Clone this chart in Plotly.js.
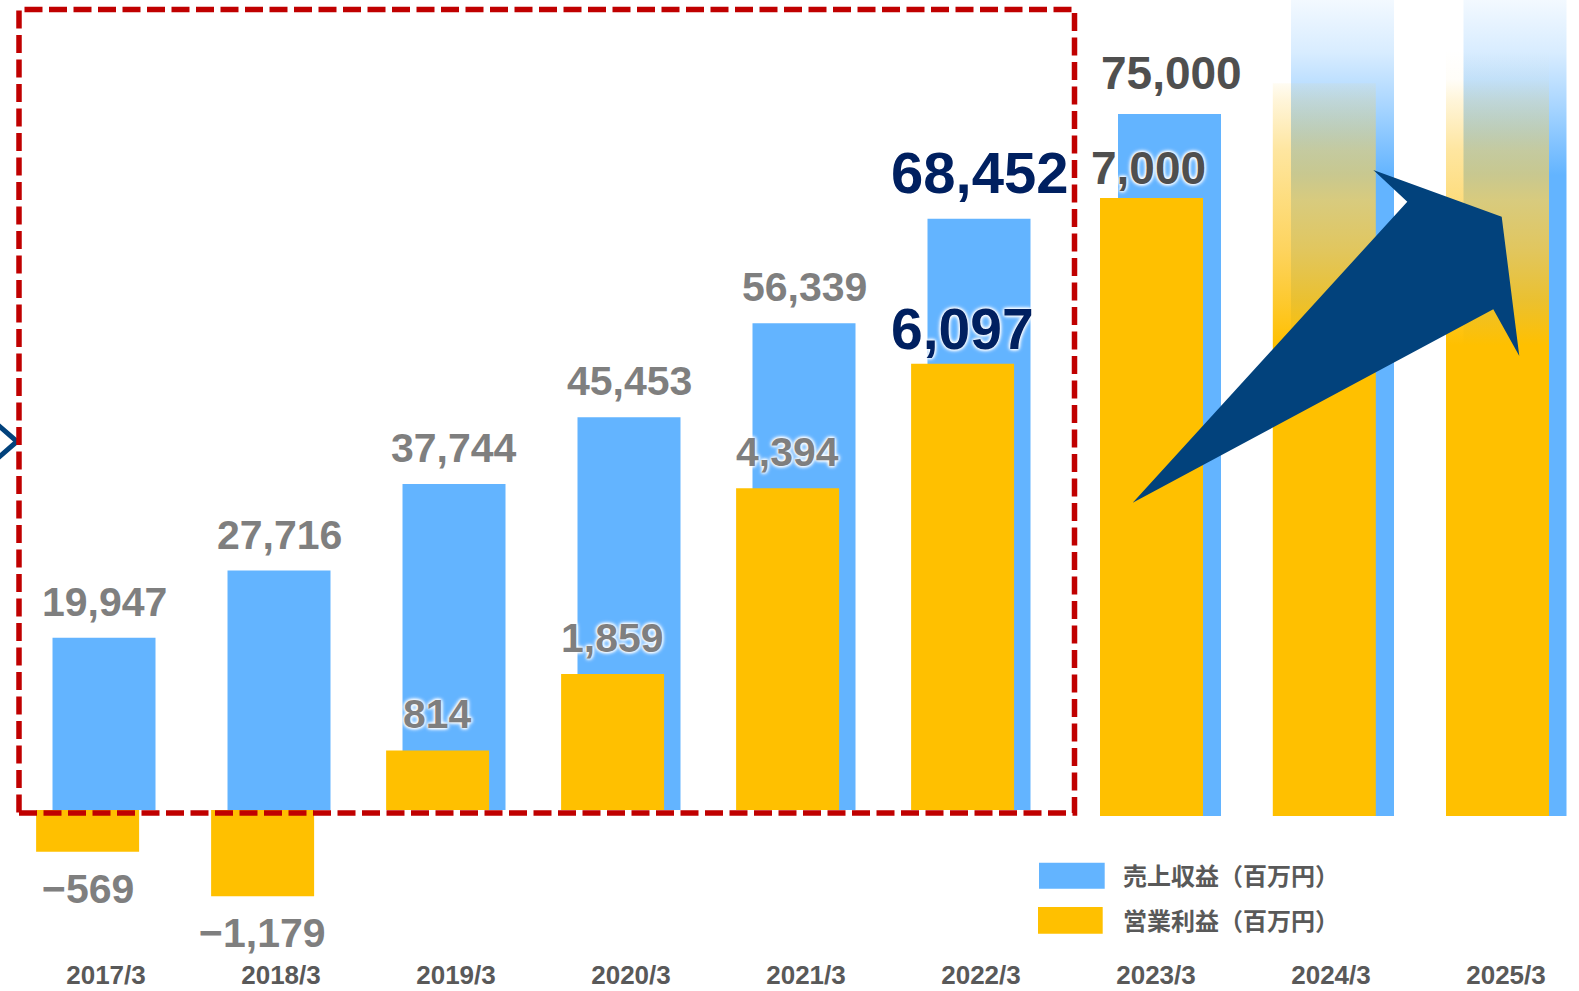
<!DOCTYPE html>
<html>
<head>
<meta charset="utf-8">
<script src="https://cdn.plot.ly/plotly-3.0.1.min.js"></script>
<style>
  html, body { margin: 0; padding: 0; background: #ffffff; overflow: hidden; }
  #chart { width: 1579px; height: 991px; }
</style>
</head>
<body>
<svg width="0" height="0" style="position:absolute">
  <defs>
    <linearGradient id="fadeBlue" gradientUnits="userSpaceOnUse" x1="0" y1="0" x2="0" y2="175">
      <stop offset="0" stop-color="#63B4FF" stop-opacity="0.08"/>
      <stop offset="0.3" stop-color="#63B4FF" stop-opacity="0.25"/>
      <stop offset="0.6" stop-color="#63B4FF" stop-opacity="0.55"/>
      <stop offset="1" stop-color="#63B4FF" stop-opacity="1"/>
    </linearGradient>
    <linearGradient id="fadeYellow" gradientUnits="userSpaceOnUse" x1="0" y1="50" x2="0" y2="345">
      <stop offset="0" stop-color="#FDD255" stop-opacity="0"/>
      <stop offset="0.1" stop-color="#FDD255" stop-opacity="0.04"/>
      <stop offset="0.17" stop-color="#FDD255" stop-opacity="0.22"/>
      <stop offset="0.34" stop-color="#FDD255" stop-opacity="0.56"/>
      <stop offset="0.51" stop-color="#FDD255" stop-opacity="0.76"/>
      <stop offset="0.68" stop-color="#FDCA3A" stop-opacity="0.82"/>
      <stop offset="0.85" stop-color="#FDC213" stop-opacity="0.88"/>
      <stop offset="1" stop-color="#FFC000" stop-opacity="1"/>
    </linearGradient>
  </defs>
</svg>
<div id="chart"></div>
<script>
// ---------------- data ----------------
const categories = ['2017/3', '2018/3', '2019/3', '2020/3', '2021/3', '2022/3', '2023/3', '2024/3', '2025/3'];
const actualCategories = ['2017/3', '2018/3', '2019/3', '2020/3', '2021/3', '2022/3'];
const planCategories = ['2023/3', '2024/3', '2025/3'];

// 売上収益（百万円）
const revenueActual = [19947, 27716, 37744, 45453, 56339, 68452];
// 営業利益（百万円）
const profitActual = [-569, -1179, 814, 1859, 4394, 6097];

// plan column (2023/3 labelled) and the two faded, unlabelled columns (heights)
const revenuePlan = [75000, 88000, 88000];
const profitPlan = [7000, 8300, 8900];
const planLabelled = [true, false, false];

const seriesNames = ['売上収益（百万円）', '営業利益（百万円）'];

// ---------------- style ----------------
const BLUE = '#63B4FF';
const YELLOW = '#FFC000';
const NAVY = '#02427C';
const L = 18, T = 0, R = 3, B = 36;
const FULLW = 1579, FULLH = 991;
const W = FULLW - L - R, H = FULLH - T - B;
const px = X => (X - L) / W;
const py = Y => 1 - (Y - T) / H;
const UNIT = W / 8.9029;           // px per category
const BW = 103 / UNIT;              // bar width in category units

const labelFont = 'Liberation Sans, Arial, sans-serif';
const glow = '0 0 3px #ffffff, 0 0 3px #ffffff, 0 0 4px #ffffff, 0 0 5px #ffffff';

function fmt(v) { return v.toLocaleString('en-US').replace('-', '\u2212'); }

const traces = [
  { type: 'bar', name: seriesNames[0], uid: 'revAct', x: actualCategories, y: revenueActual,
    xaxis: 'x', yaxis: 'y', width: BW, offset: -2 / UNIT - BW / 2,
    marker: { color: BLUE, line: { width: 0 } }, showlegend: false, hoverinfo: 'skip' },
  { type: 'bar', name: seriesNames[1], uid: 'proAct', x: actualCategories, y: profitActual,
    xaxis: 'x', yaxis: 'y2', width: BW, offset: -18.4 / UNIT - BW / 2,
    marker: { color: YELLOW, line: { width: 0 } }, showlegend: false, hoverinfo: 'skip' },
  { type: 'bar', name: seriesNames[0], uid: 'revPlan', x: planCategories, y: revenuePlan,
    xaxis: 'x', yaxis: 'y3', width: BW, offset: [13.5 / UNIT - BW / 2, 11.5 / UNIT - BW / 2, 9 / UNIT - BW / 2],
    marker: { color: BLUE, line: { width: 0 } }, showlegend: false, hoverinfo: 'skip' },
  { type: 'bar', name: seriesNames[1], uid: 'proPlan', x: planCategories, y: profitPlan,
    xaxis: 'x', yaxis: 'y4', width: BW, offset: [-4.5 / UNIT - BW / 2, -6.7 / UNIT - BW / 2, -8.5 / UNIT - BW / 2],
    marker: { color: YELLOW, line: { width: 0 } }, showlegend: false, hoverinfo: 'skip' }
];

// ---------------- value labels ----------------
const annotations = [];
function addLabel(cat, val, yref, st) {
  const neg = val < 0;
  annotations.push({
    x: cat, y: val, xref: 'x', yref: yref, text: fmt(val), showarrow: false,
    xanchor: 'center', yanchor: neg ? 'top' : 'bottom',
    xshift: st.dx, yshift: neg ? -12 : st.dy,
    font: { family: labelFont, size: st.size, color: st.color, weight: 700, shadow: glow }
  });
}
actualCategories.forEach((c, i) => {
  const hi = i === actualCategories.length - 1;
  addLabel(c, revenueActual[i], 'y', hi ? { size: 58, color: '#002060', dx: -2, dy: 12 }
                                        : { size: 41, color: '#7F7F7F', dx: -2, dy: 11 });
  addLabel(c, profitActual[i], 'y2', hi ? { size: 57, color: '#002060', dx: -18.4, dy: 1 }
                                       : { size: 41, color: '#7F7F7F', dx: -18.4, dy: 11 });
});
planCategories.forEach((c, i) => {
  if (!planLabelled[i]) return;
  addLabel(c, revenuePlan[i], 'y3', { size: 46, color: '#4F4F4F', dx: 15, dy: 13 });
  addLabel(c, profitPlan[i], 'y4', { size: 46, color: '#4F4F4F', dx: -8, dy: 2 });
});

// ---------------- legend (drawn) ----------------
const legendFont = { family: 'Noto Sans CJK JP, sans-serif', size: 24, color: '#595959', weight: 700 };
annotations.push({ xref: 'paper', yref: 'paper', x: px(1121), y: py(874), xanchor: 'left', yanchor: 'middle',
  text: seriesNames[0], showarrow: false, font: legendFont });
annotations.push({ xref: 'paper', yref: 'paper', x: px(1121), y: py(919), xanchor: 'left', yanchor: 'middle',
  text: seriesNames[1], showarrow: false, font: legendFont });

const shapes = [
  // legend swatches
  { type: 'rect', xref: 'paper', yref: 'paper', x0: px(1039), x1: px(1104.7), y0: py(862.7), y1: py(888.7),
    fillcolor: BLUE, line: { width: 0 }, layer: 'above' },
  { type: 'rect', xref: 'paper', yref: 'paper', x0: px(1038), x1: px(1102.7), y0: py(907), y1: py(933.7),
    fillcolor: YELLOW, line: { width: 0 }, layer: 'above' },
  // partial chevron at the left edge
  { type: 'path', xref: 'paper', yref: 'paper', layer: 'above',
    path: `M ${px(-2)},${py(425)} L ${px(17)},${py(441.5)} L ${px(-2)},${py(458)}`,
    line: { color: NAVY, width: 5 } },
  // red dashed frame around actual results
  { type: 'rect', xref: 'paper', yref: 'paper', layer: 'above',
    x0: px(19), x1: px(1074.5), y0: py(813), y1: py(9.5),
    line: { color: '#C00000', width: 5.5, dash: '18px,6.5px' }, fillcolor: 'rgba(0,0,0,0)' },
  // growth arrow
  { type: 'path', xref: 'paper', yref: 'paper', layer: 'above',
    path: `M ${px(1132.7)},${py(502.7)} L ${px(1407.3)},${py(201.7)} L ${px(1373.3)},${py(170)} ` +
          `L ${px(1501.7)},${py(216.7)} L ${px(1519.3)},${py(356)} L ${px(1493.3)},${py(309.3)} Z`,
    fillcolor: NAVY, line: { width: 0 } }
];

const hiddenY = { visible: false, fixedrange: true, showgrid: false, zeroline: false };
const layout = {
  width: FULLW, height: FULLH, autosize: false,
  margin: { l: L, r: R, t: T, b: B, pad: 0 },
  paper_bgcolor: '#ffffff', plot_bgcolor: 'rgba(0,0,0,0)',
  barmode: 'overlay', showlegend: false, hovermode: false,
  xaxis: {
    type: 'category', categoryorder: 'array', categoryarray: categories,
    range: [-0.5029, 8.4], fixedrange: true,
    showgrid: false, zeroline: false, showline: false, ticks: '',
    ticklabelstandoff: 2,
    tickfont: { family: 'Liberation Sans, Arial, sans-serif', size: 26, color: '#595959', weight: 700 }
  },
  yaxis: Object.assign({ range: [-16786, 93770] }, hiddenY),
  yaxis2: Object.assign({ range: [-1981, 11066], overlaying: 'y' }, hiddenY),
  yaxis3: Object.assign({ range: [-14851, 87181], overlaying: 'y' }, hiddenY),
  yaxis4: Object.assign({ range: [-1574.5, 9243], overlaying: 'y' }, hiddenY),
  annotations: annotations,
  shapes: shapes
};

Plotly.newPlot('chart', traces, layout, { displayModeBar: false, staticPlot: true }).then(gd => {
  // fade the two unlabelled future columns
  gd.querySelectorAll('g.trace.bars').forEach(g => {
    const cd = g.__data__;
    if (!cd || !cd[0] || !cd[0].trace) return;
    const uid = cd[0].trace.uid;
    if (uid !== 'revPlan' && uid !== 'proPlan') return;
    const paths = g.querySelectorAll('g.point path');
    paths.forEach((p, i) => {
      if (planLabelled[i]) return;
      p.style.fill = uid === 'revPlan' ? 'url(#fadeBlue)' : 'url(#fadeYellow)';
    });
  });
});
</script>
</body>
</html>
